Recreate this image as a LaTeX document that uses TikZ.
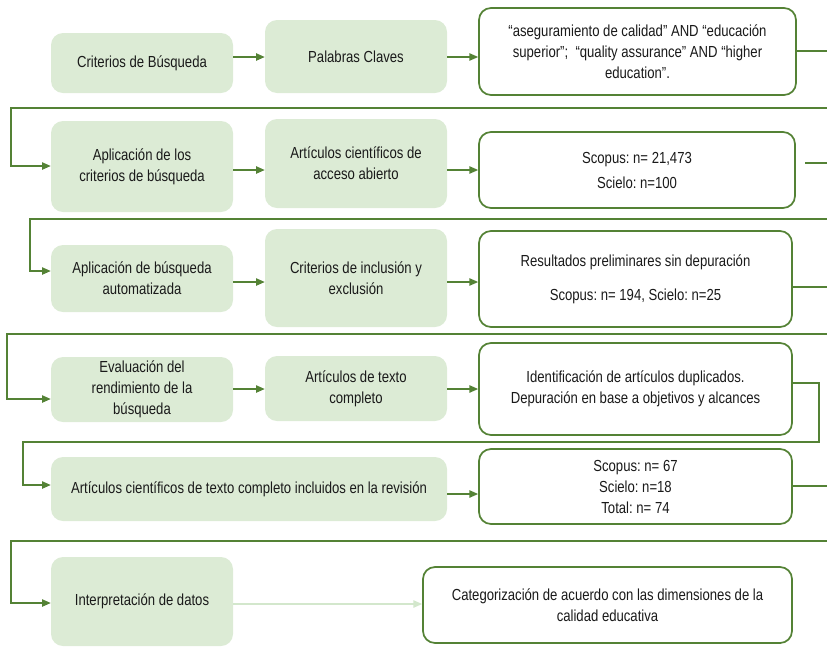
\documentclass[tikz,border=0pt]{standalone}
\usepackage{fontspec}
\setmainfont[FakeStretch=0.82]{Liberation Sans}
\usetikzlibrary{arrows.meta}
\definecolor{gfill}{HTML}{DCEBD5}
\definecolor{gline}{HTML}{548235}
\definecolor{faint}{HTML}{D3E7CC}
\definecolor{txt}{HTML}{1A1A1A}
\frenchspacing
\begin{document}
\begin{tikzpicture}[x=0.75pt,y=-0.75pt,
  box/.style={rounded corners=9pt, inner sep=0pt, align=center, text=txt, font=\frenchspacing\fontsize{12}{15.75}\selectfont},
  gbox/.style={box, fill=gfill},
  wbox/.style={box, draw=gline, line width=1.3pt, fill=white},
  sz/.style 2 args={minimum width=#1*0.75pt, minimum height=#2*0.75pt},
  conn/.style={draw=gline, line width=0.9pt},
  arr/.style={conn, -{Triangle[length=6.5pt,width=5.5pt]}},
  farr/.style={draw=faint, line width=0.9pt, -{Triangle[length=6.5pt,width=5.5pt]}}
]
\useasboundingbox (0,0) rectangle (827,647);

% ---------- nodes ----------
\node[gbox, sz={182}{60}] (g1) at (142,63) {Criterios de Búsqueda};
\node[gbox, sz={182}{73}] (g2) at (356,56.5) {Palabras Claves};
\node[wbox, sz={317}{87}] (w3) at (637.5,51.5) {“aseguramiento de calidad” AND “educación\\ superior”;~ “quality assurance” AND “higher\\ education”.};

\node[gbox, sz={182}{91}] (g4) at (142,166.5) {Aplicación de los\\criterios de búsqueda};
\node[gbox, sz={182}{89}] (g5) at (356,163.5) {Artículos científicos de\\acceso abierto};
\node[wbox, sz={316}{76}] (w6) at (637,170) {Scopus: n= 21,473\\[3pt]Scielo: n=100};

\node[gbox, sz={182}{67}] (g7) at (142,278.5) {Aplicación de búsqueda\\automatizada};
\node[gbox, sz={182}{98}] (g8) at (356,278) {Criterios de inclusión y\\exclusión};
\node[wbox, sz={313}{96}] (w9) at (635.5,279) {Resultados preliminares sin depuración\\[9.75pt]Scopus: n= 194, Scielo: n=25};

\node[gbox, sz={182}{65}] (g10) at (142,389.5) {Evaluación del\\rendimiento de la\\búsqueda};
\node[gbox, sz={182}{65}] (g11) at (356,388.5) {Artículos de texto\\completo};
\node[wbox, sz={313}{92}] (w12) at (635.5,389) {Identificación de artículos duplicados.\\Depuración en base a objetivos y alcances};

\node[gbox, sz={396}{64}] (g13) at (249,489) {Artículos científicos de texto completo incluidos en la revisión};
\node[wbox, sz={313}{75}] (w14) at (635.5,486.5) {Scopus: n= 67\\Scielo: n=18\\Total: n= 74};

\node[gbox, sz={182}{89}] (g15) at (142,601.5) {Interpretación de datos};
\node[wbox, sz={369}{76}] (w16) at (607.5,605) {Categorización de acuerdo con las dimensiones de la\\calidad educativa};

% ---------- helper coordinates ----------
\coordinate (y57) at (0,57);
\coordinate (y51) at (0,51);
\coordinate (y166) at (0,166);
\coordinate (y170) at (0,170);
\coordinate (y163) at (0,163);
\coordinate (y271) at (0,271);
\coordinate (y282) at (0,282);
\coordinate (y287) at (0,287);
\coordinate (y399) at (0,399);
\coordinate (y389) at (0,389);
\coordinate (y383) at (0,383);
\coordinate (y485) at (0,485);
\coordinate (y494) at (0,494);
\coordinate (y486) at (0,486);
\coordinate (y603) at (0,603);
\coordinate (y604) at (0,604);

\coordinate (r1) at (827,51);
\coordinate (L1a) at (827,108);
\coordinate (L1b) at (11,108);
\coordinate (s2a) at (805,163);
\coordinate (r2) at (827,163);
\coordinate (L2a) at (827,219);
\coordinate (L2b) at (30,219);
\coordinate (r3) at (827,287);
\coordinate (L3a) at (827,334);
\coordinate (L3b) at (7,334);
\coordinate (L4a) at (819,383);
\coordinate (L4b) at (819,442);
\coordinate (L4c) at (23,442);
\coordinate (r5) at (827,486);
\coordinate (L5a) at (827,541);
\coordinate (L5b) at (11,541);

% ---------- connectors ----------
% row 1
\draw[arr] (g1.east |- y57) -- (g2.west |- y57);
\draw[arr] (g2.east |- y57) -- (w3.west |- y57);
\draw[conn] (w3.east |- y51) -- (r1);
\draw[arr] (L1a) -- (L1b) |- (g4.west |- y166);
% row 2
\draw[arr] (g4.east |- y170) -- (g5.west |- y170);
\draw[arr] (g5.east |- y170) -- (w6.west |- y170);
\draw[conn] (s2a) -- (r2);
\draw[arr] (L2a) -- (L2b) |- (g7.west |- y271);
% row 3
\draw[arr] (g7.east |- y282) -- (g8.west |- y282);
\draw[arr] (g8.east |- y282) -- (w9.west |- y282);
\draw[conn] (w9.east |- y287) -- (r3);
\draw[arr] (L3a) -- (L3b) |- (g10.west |- y399);
% row 4
\draw[arr] (g10.east |- y389) -- (g11.west |- y389);
\draw[arr] (g11.east |- y389) -- (w12.west |- y389);
\draw[arr] (w12.east |- y383) -- (L4a) -- (L4b) -- (L4c) |- (g13.west |- y485);
% row 5
\draw[arr] (g13.east |- y494) -- (w14.west |- y494);
\draw[conn] (w14.east |- y486) -- (r5);
\draw[arr] (L5a) -- (L5b) |- (g15.west |- y603);
% row 6
\draw[farr] (g15.east |- y604) -- (w16.west |- y604);
\end{tikzpicture}
\end{document}
